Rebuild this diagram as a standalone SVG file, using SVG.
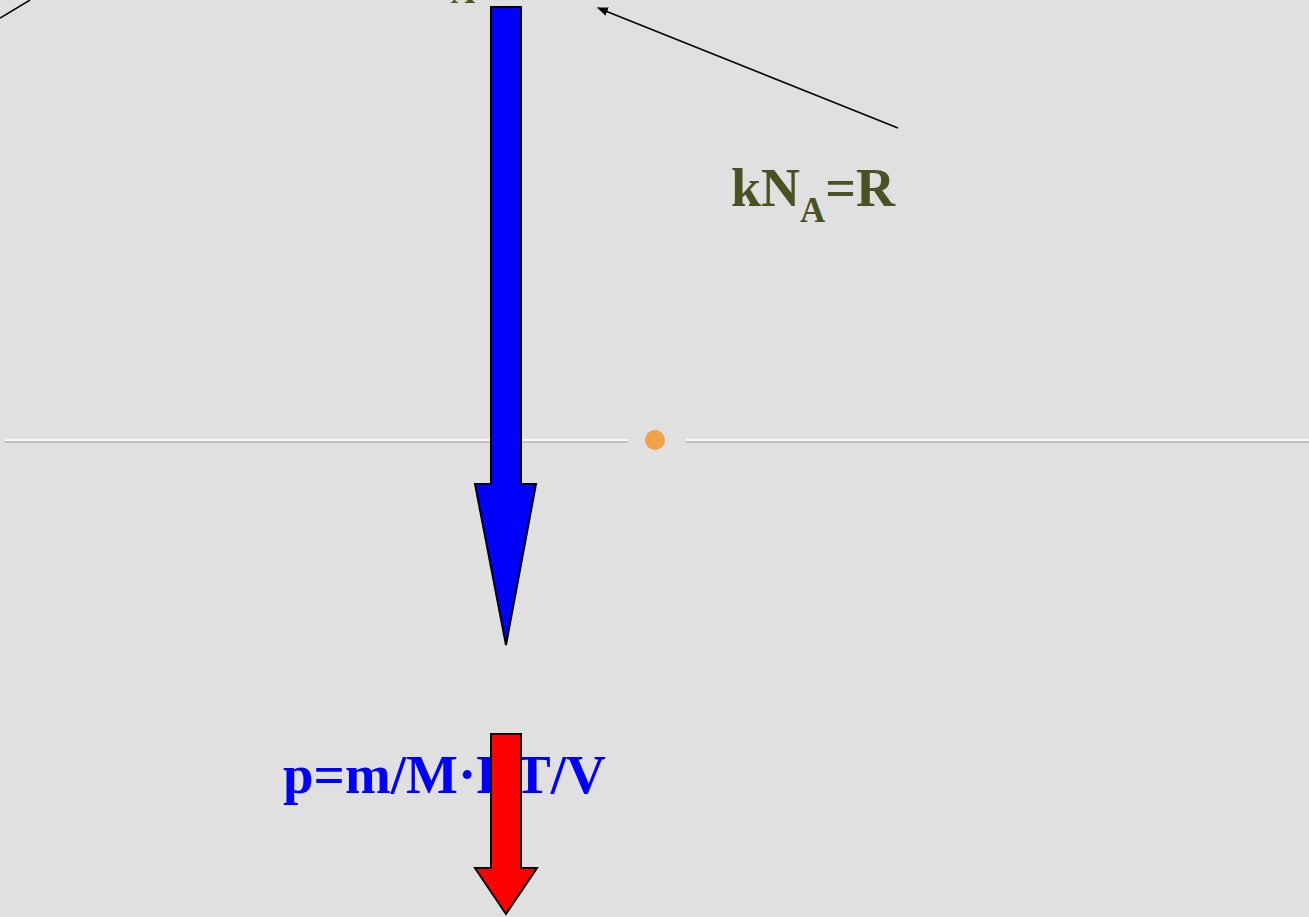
<svg xmlns="http://www.w3.org/2000/svg" width="1309" height="917" viewBox="0 0 1309 917">
  <defs>
    <style>
      .olive { font-family: "Liberation Serif", "DejaVu Serif", serif; font-weight: bold; fill: #4a5223; }
      .blue { font-family: "Liberation Serif", "DejaVu Serif", serif; font-weight: bold; fill: #0000ff; }
      .conn { stroke: #000; stroke-width: 1.5; fill: none; }
      .bigarrow { stroke: #000; stroke-width: 2; stroke-linejoin: miter; }
      .rule { stroke: #fbfbf2; stroke-width: 2; }
      .ruleshadow { stroke: #a8a8a8; stroke-width: 4; opacity: 0.55; }
    </style>
    <marker id="ah" viewBox="0 0 10 10" refX="9" refY="5" markerWidth="11" markerHeight="11" orient="auto" markerUnits="userSpaceOnUse">
      <path d="M0,1 L10,5 L0,9 z" fill="#000"/>
    </marker>
  </defs>
  <rect x="0" y="0" width="1309" height="917" fill="#e0e0e0"/>

  <g id="divider">
    <line class="ruleshadow" x1="5" y1="441" x2="628" y2="441"/>
    <line class="ruleshadow" x1="686" y1="441" x2="1309" y2="441"/>
    <line class="rule" x1="5" y1="440" x2="628" y2="440"/>
    <line class="rule" x1="686" y1="440" x2="1309" y2="440"/>
    <circle cx="655" cy="440" r="10" fill="#f0a248"/>
  </g>

  <g id="connectors">
    <line class="conn" x1="898" y1="128" x2="598" y2="8" marker-end="url(#ah)"/>
    <line class="conn" x1="0" y1="18" x2="30" y2="0"/>
  </g>

  <g id="fragment-top">
    <text class="olive" x="451" y="3" font-size="33">A</text>
  </g>

  <g id="blue-arrow">
    <path class="bigarrow" fill="#0000ff" d="M491,7 L521,7 L521,484 L536,484 L506,645 L475,484 L491,484 Z"/>
  </g>

  <g id="kna-label">
    <text class="olive" x="731" y="206" font-size="54">kN<tspan font-size="35" dy="16">A</tspan><tspan dy="-16">=R</tspan></text>
  </g>

  <g id="formula">
    <text class="blue" x="283" y="793" font-size="55">p=m/M·RT/V</text>
  </g>

  <g id="red-arrow">
    <path class="bigarrow" fill="#ff0000" d="M491,734 L521,734 L521,868 L537,868 L506,914 L475,868 L491,868 Z"/>
  </g>
</svg>
